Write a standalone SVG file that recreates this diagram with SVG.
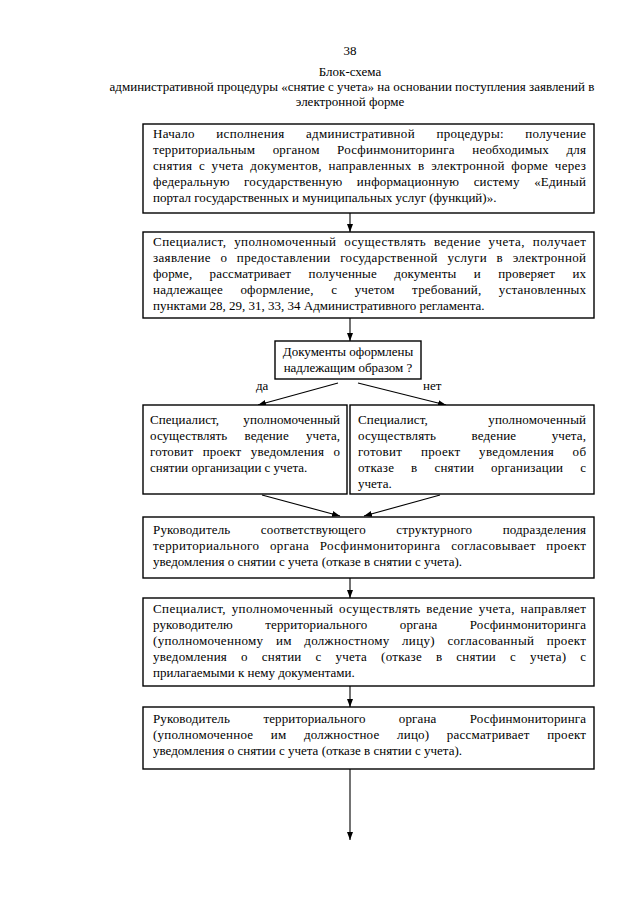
<svg xmlns="http://www.w3.org/2000/svg" width="640" height="905" viewBox="0 0 640 905">
<style>
text{font-family:"Liberation Serif","Times New Roman",serif;font-size:13px;fill:#000}
.c{text-anchor:middle}
.box{fill:#fff;stroke:#000;stroke-width:1.4}
.ln{stroke:#000;stroke-width:1.1;fill:none;marker-end:url(#ah)}
</style>
<defs>
<marker id="ah" markerUnits="userSpaceOnUse" markerWidth="9" markerHeight="7" refX="8" refY="3" orient="auto">
<path d="M0,0 L8,3 L0,6 z" fill="#000"/>
</marker>
</defs>
<rect width="640" height="905" fill="#fff"/>
<g id="header">
<text class="c" x="350" y="55">38</text>
<text class="c" x="350" y="76">Блок-схема</text>
<text class="c" x="352" y="91">административной процедуры «снятие с учета» на основании поступления заявлений в</text>
<text class="c" x="350" y="106">электронной форме</text>
</g>
<g id="connectors">
<line class="ln" x1="350" y1="213" x2="350" y2="232"/>
<line class="ln" x1="350" y1="318" x2="350" y2="341"/>
<line class="ln" x1="338" y1="383" x2="258" y2="405"/>
<line class="ln" x1="358" y1="383" x2="446" y2="405"/>
<line class="ln" x1="262" y1="495" x2="340" y2="516"/>
<line class="ln" x1="440" y1="495" x2="364" y2="516"/>
<line class="ln" x1="350" y1="578" x2="350" y2="598"/>
<line class="ln" x1="350" y1="686" x2="350" y2="707"/>
<line class="ln" x1="350" y1="769" x2="350" y2="840"/>
<text x="256" y="390">да</text>
<text x="423" y="390">нет</text>
</g>
<g id="n1">
<rect class="box" x="143" y="124" width="451" height="89"/>
<text x="153" y="138" word-spacing="18" textLength="433" lengthAdjust="spacing">Начало исполнения административной процедуры: получение</text>
<text x="153" y="154" word-spacing="14" textLength="433" lengthAdjust="spacing">территориальным органом Росфинмониторинга необходимых для</text>
<text x="153" y="170" word-spacing="3" textLength="433" lengthAdjust="spacing">снятия с учета документов, направленных в электронной форме через</text>
<text x="153" y="186" word-spacing="11" textLength="433" lengthAdjust="spacing">федеральную государственную информационную систему «Единый</text>
<text x="153" y="202">портал государственных и муниципальных услуг (функций)».</text>
</g>
<g id="n2">
<rect class="box" x="143" y="232" width="451" height="86"/>
<text x="153" y="246" word-spacing="4" textLength="433" lengthAdjust="spacing">Специалист, уполномоченный осуществлять ведение учета, получает</text>
<text x="153" y="262" word-spacing="6" textLength="433" lengthAdjust="spacing">заявление о предоставлении государственной услуги в электронной</text>
<text x="153" y="278" word-spacing="14" textLength="433" lengthAdjust="spacing">форме, рассматривает полученные документы и проверяет их</text>
<text x="153" y="294" word-spacing="14" textLength="433" lengthAdjust="spacing">надлежащее оформление, с учетом требований, установленных</text>
<text x="153" y="310">пунктами 28, 29, 31, 33, 34 Административного регламента.</text>
</g>
<g id="n3">
<rect class="box" x="275" y="341" width="146" height="38"/>
<text class="c" x="348" y="356">Документы оформлены</text>
<text class="c" x="348" y="372">надлежащим образом ?</text>
</g>
<g id="n4">
<rect class="box" x="143" y="405" width="204" height="89"/>
<text x="150" y="424" word-spacing="21" textLength="190" lengthAdjust="spacing">Специалист, уполномоченный</text>
<text x="150" y="440" word-spacing="14" textLength="190" lengthAdjust="spacing">осуществлять ведение учета,</text>
<text x="150" y="456" word-spacing="6" textLength="190" lengthAdjust="spacing">готовит проект уведомления о</text>
<text x="150" y="472">снятии организации с учета.</text>
</g>
<g id="n5">
<rect class="box" x="350" y="405" width="244" height="89"/>
<text x="358" y="424" word-spacing="57" textLength="228" lengthAdjust="spacing">Специалист, уполномоченный</text>
<text x="358" y="440" word-spacing="32" textLength="228" lengthAdjust="spacing">осуществлять ведение учета,</text>
<text x="358" y="456" word-spacing="15" textLength="228" lengthAdjust="spacing">готовит проект уведомления об</text>
<text x="358" y="472" word-spacing="13.5" textLength="228" lengthAdjust="spacing">отказе в снятии организации с</text>
<text x="358" y="488">учета.</text>
</g>
<g id="n6">
<rect class="box" x="143" y="517" width="451" height="61"/>
<text x="153" y="534" word-spacing="27" textLength="433" lengthAdjust="spacing">Руководитель соответствующего структурного подразделения</text>
<text x="153" y="550" word-spacing="7" textLength="433" lengthAdjust="spacing">территориального органа Росфинмониторинга согласовывает проект</text>
<text x="153" y="566">уведомления о снятии с учета (отказе в снятии с учета).</text>
</g>
<g id="n7">
<rect class="box" x="143" y="598" width="451" height="88"/>
<text x="153" y="613" word-spacing="2" textLength="433" lengthAdjust="spacing">Специалист, уполномоченный осуществлять ведение учета, направляет</text>
<text x="153" y="629" word-spacing="29" textLength="433" lengthAdjust="spacing">руководителю территориального органа Росфинмониторинга</text>
<text x="153" y="645" word-spacing="9" textLength="433" lengthAdjust="spacing">(уполномоченному им должностному лицу) согласованный проект</text>
<text x="153" y="661" word-spacing="10.5" textLength="433" lengthAdjust="spacing">уведомления о снятии с учета (отказе в снятии с учета) с</text>
<text x="153" y="677">прилагаемыми к нему документами.</text>
</g>
<g id="n8">
<rect class="box" x="143" y="707" width="451" height="62"/>
<text x="153" y="723" word-spacing="30" textLength="433" lengthAdjust="spacing">Руководитель территориального органа Росфинмониторинга</text>
<text x="153" y="739" word-spacing="14" textLength="433" lengthAdjust="spacing">(уполномоченное им должностное лицо) рассматривает проект</text>
<text x="153" y="755">уведомления о снятии с учета (отказе в снятии с учета).</text>
</g>
</svg>
